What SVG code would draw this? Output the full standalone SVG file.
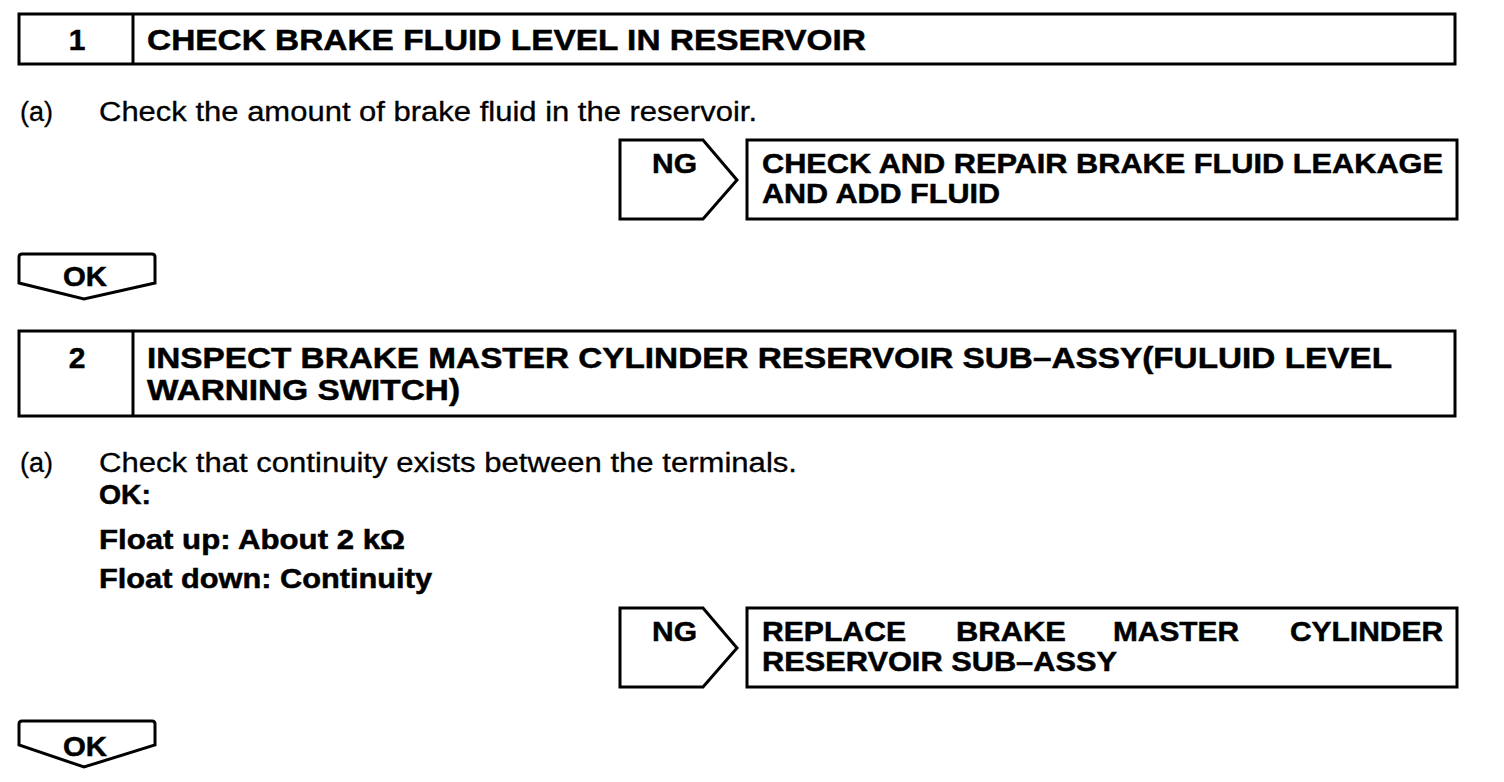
<svg xmlns="http://www.w3.org/2000/svg" width="1504" height="782" viewBox="0 0 1504 782">
<style>
.box{fill:none;stroke:#000;stroke-width:3;stroke-linejoin:miter}
.b{font-family:"Liberation Sans",Arial,sans-serif;font-weight:bold;fill:#000;stroke:#000;stroke-width:0.5}
.n{font-family:"Liberation Sans",Arial,sans-serif;fill:#000;stroke:#000;stroke-width:0.3}
</style>
<rect width="1504" height="782" fill="#fff"/>
<g id="step1">
<rect class="box" x="19" y="14" width="1436" height="50"/>
<line class="box" x1="133" y1="14" x2="133" y2="64"/>
<text class="b" x="77" y="50" font-size="30" text-anchor="middle">1</text>
<text class="b" x="147" y="50" font-size="30" textLength="719" lengthAdjust="spacingAndGlyphs">CHECK BRAKE FLUID LEVEL IN RESERVOIR</text>
</g>
<g id="step1-text">
<text class="n" x="20" y="121" font-size="27">(a)</text>
<text class="n" x="99" y="121" font-size="27" textLength="658" lengthAdjust="spacingAndGlyphs">Check the amount of brake fluid in the reservoir.</text>
</g>
<g id="ng1">
<path class="box" d="M620,140 L703,140 L737,180 L703,219 L620,219 Z"/>
<text class="b" x="652" y="173" font-size="28" textLength="45" lengthAdjust="spacingAndGlyphs">NG</text>
</g>
<g id="result1">
<rect class="box" x="747" y="140" width="710" height="79"/>
<text class="b" x="762" y="173" font-size="28" textLength="681" lengthAdjust="spacingAndGlyphs">CHECK AND REPAIR BRAKE FLUID LEAKAGE</text>
<text class="b" x="762" y="203" font-size="28" textLength="238" lengthAdjust="spacingAndGlyphs">AND ADD FLUID</text>
</g>
<g id="ok1">
<path class="box" d="M19,283 L19,257 Q19,254 22,254 L152,254 Q155,254 155,257 L155,283 L84,299 Z"/>
<text class="b" x="63" y="286" font-size="28" textLength="44" lengthAdjust="spacingAndGlyphs">OK</text>
</g>
<g id="step2">
<rect class="box" x="19" y="331" width="1436" height="85"/>
<line class="box" x1="133" y1="331" x2="133" y2="416"/>
<text class="b" x="77" y="368" font-size="30" text-anchor="middle">2</text>
<text class="b" x="147" y="368" font-size="30" textLength="1245" lengthAdjust="spacingAndGlyphs">INSPECT BRAKE MASTER CYLINDER RESERVOIR SUB–ASSY(FULUID LEVEL</text>
<text class="b" x="147" y="400" font-size="30" textLength="313" lengthAdjust="spacingAndGlyphs">WARNING SWITCH)</text>
</g>
<g id="step2-text">
<text class="n" x="20" y="472" font-size="27">(a)</text>
<text class="n" x="99" y="472" font-size="27" textLength="698" lengthAdjust="spacingAndGlyphs">Check that continuity exists between the terminals.</text>
<text class="b" x="99" y="504" font-size="27" textLength="52" lengthAdjust="spacingAndGlyphs">OK:</text>
<text class="b" x="99" y="549" font-size="27" textLength="306" lengthAdjust="spacingAndGlyphs">Float up: About 2 kΩ</text>
<text class="b" x="99" y="588" font-size="27" textLength="333" lengthAdjust="spacingAndGlyphs">Float down: Continuity</text>
</g>
<g id="ng2">
<path class="box" d="M620,608 L703,608 L737,648 L703,687 L620,687 Z"/>
<text class="b" x="652" y="641" font-size="28" textLength="45" lengthAdjust="spacingAndGlyphs">NG</text>
</g>
<g id="result2">
<rect class="box" x="747" y="608" width="710" height="79"/>
<text class="b" x="762" y="641" font-size="28" textLength="144" lengthAdjust="spacingAndGlyphs">REPLACE</text>
<text class="b" x="956" y="641" font-size="28" textLength="110" lengthAdjust="spacingAndGlyphs">BRAKE</text>
<text class="b" x="1113" y="641" font-size="28" textLength="126" lengthAdjust="spacingAndGlyphs">MASTER</text>
<text class="b" x="1290" y="641" font-size="28" textLength="153" lengthAdjust="spacingAndGlyphs">CYLINDER</text>
<text class="b" x="762" y="671" font-size="28" textLength="355" lengthAdjust="spacingAndGlyphs">RESERVOIR SUB–ASSY</text>
</g>
<g id="ok2">
<path class="box" d="M19,745 L19,724 Q19,721 22,721 L152,721 Q155,721 155,724 L155,745 L84,767 Z"/>
<text class="b" x="63" y="756" font-size="28" textLength="44" lengthAdjust="spacingAndGlyphs">OK</text>
</g>
<g id="connectors"></g>
</svg>
